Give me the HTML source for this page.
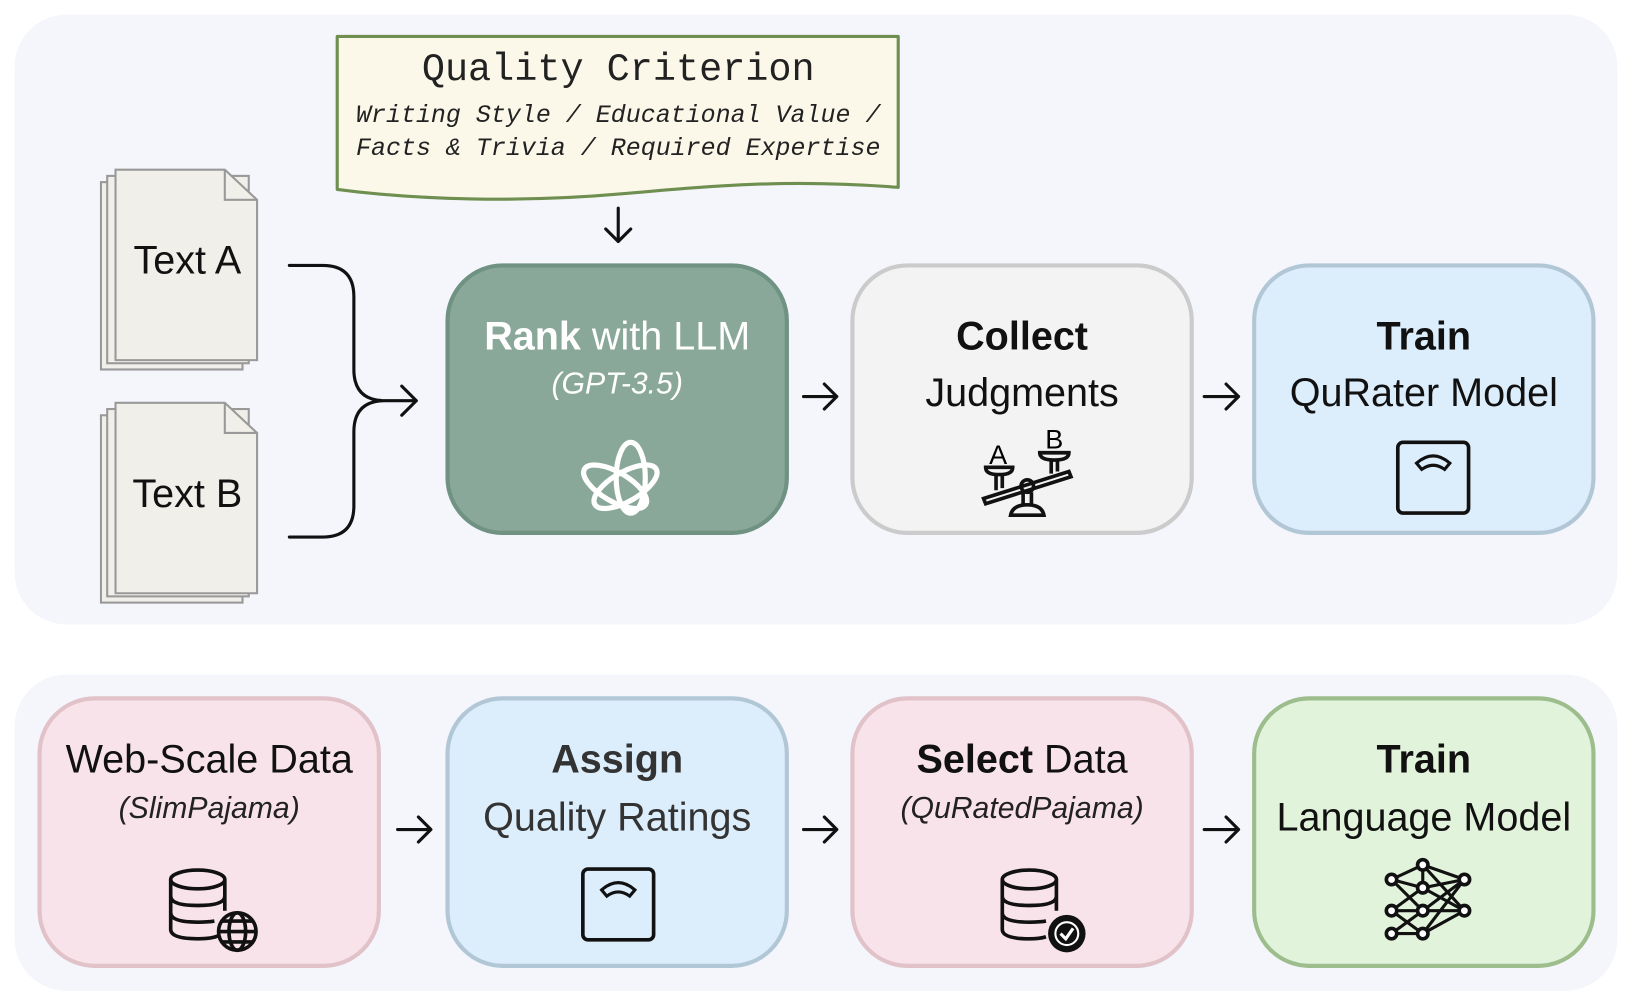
<!DOCTYPE html>
<html><head><meta charset="utf-8"><style>
html,body{margin:0;padding:0;background:#fff;width:1632px;height:1004px;overflow:hidden}
#w{position:absolute;left:0;top:0;width:1568px;height:965px;transform:scale(1.0408);transform-origin:0 0;font-family:"Liberation Sans",sans-serif}
.panel{position:absolute;left:14px;width:1540px;background:#f4f6fc;border-radius:50px}
.box{position:absolute;box-sizing:border-box;width:330px;height:261px;border-radius:55px;border:4.5px solid;text-align:center}
.t1{position:absolute;left:0;right:0;font-size:38px;color:#111}
.t2{position:absolute;left:0;right:0;font-size:29px;font-style:italic;color:#222}
</style></head><body><div id="w">
<div class="panel" style="top:14px;height:586px"></div>
<div class="panel" style="top:648px;height:304px"></div>

<svg style="position:absolute;left:0;top:0" width="1568" height="965">
 <path d="M324,35 L863,35 L863,180 C760,172 690,178 600,186 C500,195 400,192 324,182 Z" fill="#fbf8ea" stroke="#6f8f50" stroke-width="3" stroke-linejoin="round"/>
 <g fill="none" stroke="#111" stroke-width="3" stroke-linecap="round" stroke-linejoin="round">
  <path d="M594,200 V232 M582,220 L594,232 L606,220"/>
  <path d="M278,255 H310 Q340,255 340,285 V355 Q340,385 370,385 H400 M278,516 H310 Q340,516 340,486 V415 Q340,385 370,385 M386,371 L400,385 L386,399"/>
  <path d="M772,381 H804 M792,369 L804,381 L792,393"/>
  <path d="M1157,381 H1190 M1178,369 L1190,381 L1178,393"/>
  <path d="M382,797 H414 M402,785 L414,797 L402,809"/>
  <path d="M772,797 H804 M792,785 L804,797 L792,809"/>
  <path d="M1157,797 H1190 M1178,785 L1190,797 L1178,809"/>
 </g>
 <g fill="#f1efe9" stroke="#999" stroke-width="2">
  <rect x="97" y="175" width="136" height="180"/><rect x="103" y="169" width="136" height="180"/>
  <path d="M111,163 H216 L247,192 V346 H111 Z"/><path d="M216,163 V192 H247" fill="none"/>
  <rect x="97" y="399" width="136" height="180"/><rect x="103" y="393" width="136" height="180"/>
  <path d="M111,387 H216 L247,416 V570 H111 Z"/><path d="M216,387 V416 H247" fill="none"/>
 </g>
 <text x="180" y="263" font-size="38" text-anchor="middle" font-family="Liberation Sans" fill="#111">Text A</text>
 <text x="180" y="487" font-size="38" text-anchor="middle" font-family="Liberation Sans" fill="#111">Text B</text>
 <text x="594" y="77" font-size="37" text-anchor="middle" font-family="Liberation Mono" fill="#222">Quality Criterion</text>
 <text x="594" y="117" font-size="24" text-anchor="middle" font-family="Liberation Mono" font-style="italic" fill="#222">Writing Style / Educational Value /</text>
 <text x="594" y="149" font-size="24" text-anchor="middle" font-family="Liberation Mono" font-style="italic" fill="#222">Facts &amp; Trivia / Required Expertise</text>
</svg>

<div class="box" style="left:428px;top:253px;background:#8aa89a;border-color:#6f9282">
 <div class="t1" style="top:46px;color:#fff"><b>Rank</b> with LLM</div>
 <div class="t2" style="top:96px;color:#fff">(GPT-3.5)</div>
 <svg style="position:absolute;left:122px;top:160px" width="84" height="84" viewBox="-42 -42 84 84"><g fill="none" stroke="#fff" stroke-width="5">
  <ellipse rx="14" ry="34" transform="rotate(0) translate(10,0)"/><ellipse rx="14" ry="34" transform="rotate(60) translate(10,0)"/><ellipse rx="14" ry="34" transform="rotate(120) translate(10,0)"/></g></svg>
</div>
<div class="box" style="left:817px;top:253px;background:#f3f3f3;border-color:#cbcbcb">
 <div class="t1" style="top:46px"><b>Collect</b></div>
 <div class="t1" style="top:100px">Judgments</div>
 <svg style="position:absolute;left:118px;top:152px" width="96" height="90" viewBox="0 0 96 90"><g fill="none" stroke="#111" stroke-width="3.5">
  <path d="M6,70 L88,44 L90,49 L8,75 Z"/><circle cx="48" cy="58" r="6"/><path d="M44,64 V76 M52,64 V76 M32,86 Q34,76 48,76 Q62,76 64,86 Z"/>
  <path d="M8,40 H34 Q34,47 21,47 Q8,47 8,40 Z M18,47 V62 M24,47 V60"/><path d="M60,26 H88 Q88,33 74,33 Q60,33 60,26 Z M71,33 V46 M77,33 V44"/></g>
  <text x="20" y="37" font-size="26" text-anchor="middle" font-family="Liberation Sans">A</text><text x="74" y="22" font-size="26" text-anchor="middle" font-family="Liberation Sans">B</text></svg>
</div>
<div class="box" style="left:1203px;top:253px;background:#dcedfb;border-color:#b2c7d6">
 <div class="t1" style="top:46px"><b>Train</b></div>
 <div class="t1" style="top:100px">QuRater Model</div>
 <svg style="position:absolute;left:132px;top:164px" width="76" height="76"><rect x="4" y="4" width="68" height="68" rx="5" fill="none" stroke="#111" stroke-width="3.5"/><path d="M22,24 Q38,10 54,24 L49,30 Q38,22 27,30 Z" fill="none" stroke="#111" stroke-width="3"/></svg>
</div>

<div class="box" style="left:36px;top:669px;background:#f9e3ea;border-color:#e0c2c8">
 <div class="t1" style="top:36px">Web-Scale Data</div>
 <div class="t2" style="top:88px">(SlimPajama)</div>
 <svg style="position:absolute;left:120px;top:160px" width="96" height="84"><g fill="none" stroke="#111" stroke-width="3.5"><ellipse cx="30" cy="12" rx="26" ry="9"/><path d="M4,12 V60 Q4,69 30,69 Q44,69 50,66 M56,12 V42 M4,28 Q4,37 30,37 Q56,37 56,28 M4,44 Q4,53 30,53 Q40,53 46,52"/><circle cx="68" cy="62" r="18"/><ellipse cx="68" cy="62" rx="8" ry="18"/><path d="M50,62 H86 M53,52 H83 M53,72 H83"/></g></svg>
</div>
<div class="box" style="left:428px;top:669px;background:#dcedfb;border-color:#b2c7d6">
 <div class="t1" style="top:36px;color:#333"><b>Assign</b></div>
 <div class="t1" style="top:92px;color:#333">Quality Ratings</div>
 <svg style="position:absolute;left:124px;top:158px" width="76" height="76"><rect x="4" y="4" width="68" height="68" rx="5" fill="none" stroke="#111" stroke-width="3.5"/><path d="M22,24 Q38,10 54,24 L49,30 Q38,22 27,30 Z" fill="none" stroke="#111" stroke-width="3"/></svg>
</div>
<div class="box" style="left:817px;top:669px;background:#f9e3ea;border-color:#e0c2c8">
 <div class="t1" style="top:36px"><b>Select</b> Data</div>
 <div class="t2" style="top:88px">(QuRatedPajama)</div>
 <svg style="position:absolute;left:138px;top:160px" width="96" height="84"><g fill="none" stroke="#111" stroke-width="3.5"><ellipse cx="30" cy="12" rx="26" ry="9"/><path d="M4,12 V60 Q4,69 30,69 Q40,69 46,67 M56,12 V42 M4,28 Q4,37 30,37 Q56,37 56,28 M4,44 Q4,53 30,53 Q40,53 46,52"/></g><circle cx="66" cy="64" r="18" fill="#111"/><circle cx="66" cy="64" r="11" fill="none" stroke="#fff" stroke-width="2"/><path d="M60,64 L65,69 L72,59" fill="none" stroke="#fff" stroke-width="3"/></svg>
</div>
<div class="box" style="left:1203px;top:669px;background:#e2f3dc;border-color:#9dbe8c">
 <div class="t1" style="top:36px"><b>Train</b></div>
 <div class="t1" style="top:92px">Language Model</div>
 <svg style="position:absolute;left:120px;top:150px" width="90" height="90"><g stroke="#111" stroke-width="3" fill="none"><path d="M10,22 L40,8 L40,30 L10,22 L40,52 L10,52 L40,30 L80,22 L40,8 M40,52 L80,52 L40,30 M10,52 L40,74 L80,52 M40,74 L10,74 L40,52 L80,22 M10,74 L40,52 M40,8 L80,52 M40,74 L80,22"/></g>
 <g fill="#fff" stroke="#111" stroke-width="3.5"><circle cx="10" cy="22" r="5"/><circle cx="10" cy="52" r="5"/><circle cx="10" cy="74" r="5"/><circle cx="40" cy="8" r="5"/><circle cx="40" cy="30" r="5"/><circle cx="40" cy="52" r="5"/><circle cx="40" cy="74" r="5"/><circle cx="80" cy="22" r="5"/><circle cx="80" cy="52" r="5"/></g></svg>
</div>
</div></body></html>
